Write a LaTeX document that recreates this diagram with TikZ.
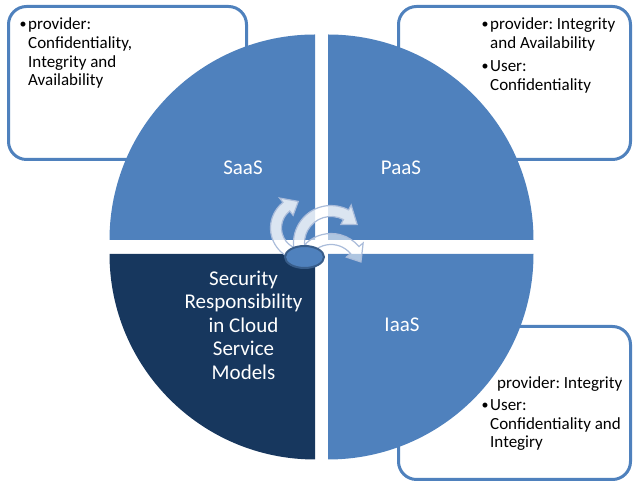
\documentclass[tikz,border=0pt]{standalone}
\usepackage{fontspec}
\setmainfont{Carlito}
\usetikzlibrary{calc}

\definecolor{quadblue}{RGB}{79,129,189}
\definecolor{quaddark}{RGB}{23,55,94}
\definecolor{hubedge}{RGB}{56,93,138}
\definecolor{arrowedge}{RGB}{170,188,218}

% quarter disc: corner, start angle, end angle
\def\quadrant[#1](#2)(#3:#4){\fill[#1] (#2) -- ++(#3:205.5) arc[start angle=#3, end angle=#4, radius=205.5] -- cycle;}
% curved block arrow: centre, start angle, head angle, tip angle, radius
\def\cyclearrow[#1](#2)(#3:#4:#5:#6){\draw[#1,shift={(#2)}] (#3:{#6+5.5}) arc[start angle=#3, end angle=#4, radius=#6+5.5] -- (#4:{#6+11}) -- (#5:#6) -- (#4:{#6-11}) -- (#4:{#6-5.5}) arc[start angle=#4, end angle=#3, radius=#6-5.5] -- cycle;}

\tikzset{
  infobox/.style={draw=quadblue, line width=3pt, rounded corners=18pt, fill=white},
  boxtext/.style={anchor=base west, inner sep=0pt, text width=150pt, align=left,
    font=\fontsize{17}{18.6}\selectfont},
  quadlabel/.style={text=white, inner sep=0pt, align=center,
    font=\fontsize{21}{23.5}\selectfont},
  cycarrow/.style={fill=white, fill opacity=0.8, draw=arrowedge, line width=1.2pt},
}

% plain word spaces and a hanging bullet
\newcommand{\notesetup}[1]{\frenchspacing\spaceskip=0pt\xspaceskip=0pt\setlength{\parskip}{#1}}
\newcommand{\bulletitem}{\hangindent=8.5pt\hangafter=1%
  \makebox[8.5pt][l]{\raisebox{1pt}{\fontsize{14}{14}\selectfont\textbullet}}}

\begin{document}
\begin{tikzpicture}[x=1pt, y=1pt]
  \useasboundingbox (0,0) rectangle (633,484);

  %%%%% side boxes %%%%%
  \draw[infobox] (8.5, 324.5) rectangle (246.5, 477.5);
  \draw[infobox] (398.5, 324.5) rectangle (630.5, 477.5);
  \draw[infobox] (398.5, 4.5) rectangle (630.5, 157.5);

  \node[boxtext] (saasnote) at (19.5, 454)
    {\notesetup{0pt}\bulletitem provider:\newline Confidentiality,\newline Integrity and\newline Availability\par};
  \node[boxtext] (paasnote) at (481.5, 454)
    {\notesetup{4.7pt}\bulletitem provider: Integrity\newline and Availability\par
     \bulletitem User:\newline Confidentiality\par};
  \node[boxtext] (iaasnote) at (481.5, 95.5)
    {\notesetup{3.5pt}\hspace*{15.5pt}provider: Integrity\par
     \bulletitem User:\newline Confidentiality and\newline Integiry\par};

  %%%%% the four quadrants %%%%%
  \quadrant[quadblue](315, 244)(90:180)
  \quadrant[quadblue](328, 244)(0:90)
  \quadrant[quaddark](315, 230)(180:270)
  \quadrant[quadblue](328, 230)(270:360)

  \node[quadlabel] (saas) at (243, 316) {SaaS};
  \node[quadlabel] (paas) at (401, 316) {PaaS};
  \node[quadlabel] (iaas) at (402, 159) {IaaS};
  \node[quadlabel] (security) at (243.5, 159)
    {Security\\Responsibility\\in Cloud\\Service\\Models};

  %%%%% arrows round the hub %%%%%
  \cyclearrow[cycarrow](303, 256)(250:128:100:27)
  \cyclearrow[cycarrow, fill opacity=0.55](331, 214)(135:40:15:31)
  \cyclearrow[cycarrow](331, 241)(188:62:35:32)

  \draw[fill=quadblue, draw=hubedge, line width=2pt] (304.5, 227) ellipse [x radius=19.5, y radius=11];
\end{tikzpicture}
\end{document}
